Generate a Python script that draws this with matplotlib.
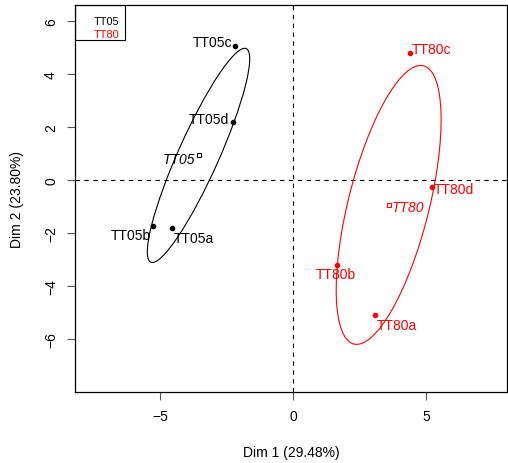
import numpy as np
import matplotlib.pyplot as plt
from matplotlib.patches import Ellipse, Rectangle

plt.rcParams['font.family'] = ['Liberation Sans', 'DejaVu Sans']

# individual coordinates on Dim 1 / Dim 2
names_05 = ['TT05a', 'TT05b', 'TT05c', 'TT05d']
dim1_05 = [-4.56, -5.26, -2.18, -2.26]
dim2_05 = [-1.80, -1.72, 5.05, 2.18]

names_80 = ['TT80a', 'TT80b', 'TT80c', 'TT80d']
dim1_80 = [3.08, 1.65, 4.39, 5.21]
dim2_80 = [-5.09, -3.20, 4.78, -0.25]

groups = ['TT05', 'TT80']
group_cols = ['black', 'red']
# confidence ellipses: semi-major, semi-minor, angle (deg)
ell_a = [4.41, 5.41]
ell_b = [0.765, 1.52]
ell_ang = [66.0, 76.0]

xlab = "Dim 1 (29.48%)"
ylab = "Dim 2 (23.80%)"

# label offsets (points) and alignment
off_05 = [((1.5, -6), 'left'), ((-2, -6), 'right'), ((-2, 4), 'right'), ((-3, 3.6), 'right')]
off_80 = [((1, -6.5), 'left'), ((-1, -5.3), 'center'), ((1.5, 4.3), 'left'), ((1.5, -1), 'left')]
off_mean = [((-2, -1.5), 'right'), ((2, -0.7), 'left')]

fig = plt.figure(figsize=(5.08, 4.64), dpi=100)
ax = fig.add_axes([0.147, 0.1524, 0.851, 0.834])

ax.axhline(0, color='black', lw=0.8, ls=(0, (4, 4)), zorder=1)
ax.axvline(0, color='black', lw=0.8, ls=(0, (4, 4)), zorder=1)

data = [(names_05, dim1_05, dim2_05, off_05), (names_80, dim1_80, dim2_80, off_80)]
for g, (nm, xs, ys, offs) in enumerate(data):
    col = group_cols[g]
    ax.plot(xs, ys, 'o', color=col, ms=3, zorder=3)
    for n, x, y, (o, ha) in zip(nm, xs, ys, offs):
        ax.annotate(n, (x, y), xytext=o, textcoords='offset points', ha=ha,
                    va='center_baseline', color=col, fontsize=10)
    cx, cy = np.mean(xs), np.mean(ys)
    ax.plot([cx], [cy], 's', mfc='white', mec=col, ms=3.5, mew=0.8, zorder=3)
    o, ha = off_mean[g]
    ax.annotate(groups[g], (cx, cy), xytext=o, textcoords='offset points', ha=ha,
                va='center_baseline', color=col, fontsize=10, style='italic')
    ax.add_patch(Ellipse((cx, cy), 2 * ell_a[g], 2 * ell_b[g], angle=ell_ang[g],
                         fill=False, ec=col, lw=0.8, zorder=2))

ax.set_xlim(-8.22, 8.03)
ax.set_ylim(-8.01, 6.59)
ax.set_xticks([-5, 0, 5])
ax.set_yticks([-6, -4, -2, 0, 2, 4, 6])
ax.tick_params(length=6, width=0.8, color='#555555', labelsize=10, pad=6)
plt.setp(ax.get_yticklabels(), rotation=90, va='center')
for s in ax.spines.values():
    s.set_linewidth(0.9)

ax.set_xlabel(xlab, fontsize=10, va='center')
ax.set_ylabel(ylab, fontsize=10, va='center')
ax.xaxis.set_label_coords(0.5, -0.155)
ax.yaxis.set_label_coords(-0.134, 0.5)

# legend box
ax.add_patch(Rectangle((0, 1 - 0.0897), 0.116, 0.0897, transform=ax.transAxes,
                       fill=False, ec='black', lw=0.8, zorder=4))
for g, yy in zip(range(2), [0.959, 0.927]):
    ax.text(0.1025, yy, groups[g], transform=ax.transAxes, ha='right', va='center',
            color=group_cols[g], fontsize=7.8)

fig.savefig('out.png', dpi=100)
